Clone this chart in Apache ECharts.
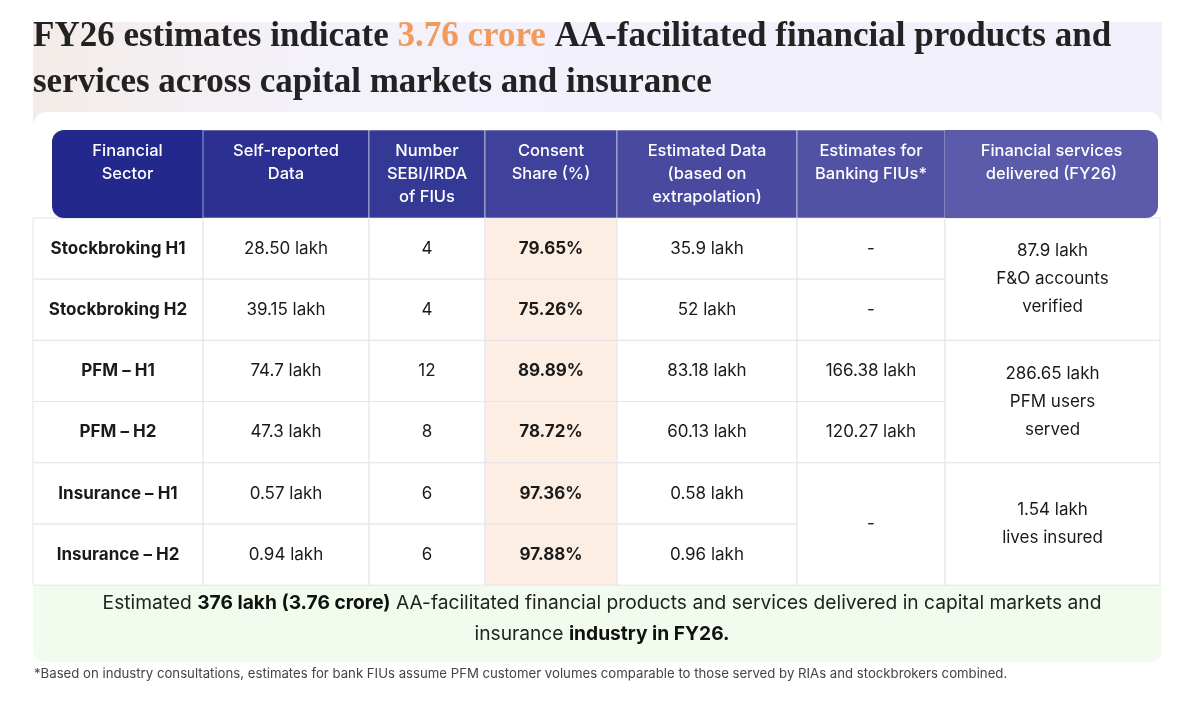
<!DOCTYPE html>
<html><head><meta charset="utf-8">
<script src="https://cdn.jsdelivr.net/npm/echarts@6/dist/echarts.min.js"></script>
<style>html,body{margin:0;padding:0;background:#fff}#c{width:1204px;height:708px}</style>
</head><body><div id="c"></div>
<script>
const headers = ['Financial\nSector','Self-reported\nData','Number\nSEBI/IRDA\nof FIUs','Consent\nShare (%)','Estimated Data\n(based on\nextrapolation)','Estimates for\nBanking FIUs*','Financial services\ndelivered (FY26)'];
const sectors = ['Stockbroking H1','Stockbroking H2','PFM – H1','PFM – H2','Insurance – H1','Insurance – H2'];
const selfReported = ['28.50 lakh','39.15 lakh','74.7 lakh','47.3 lakh','0.57 lakh','0.94 lakh'];
const fiuCount = [4,4,12,8,6,6];
const consentShare = [79.65,75.26,89.89,78.72,97.36,97.88];
const estimated = ['35.9 lakh','52 lakh','83.18 lakh','60.13 lakh','0.58 lakh','0.96 lakh'];
const banking = [['-',0,0],['-',1,1],['166.38 lakh',2,2],['120.27 lakh',3,3],['-',4,5]];
const delivered = [['87.9 lakh\nF&O accounts\nverified',0,1],['286.65 lakh\nPFM users\nserved',2,3],['1.54 lakh\nlives insured',4,5]];

// layout (pixels)
const colEdges = [33,203,369,485,617,797,945,1160];
const headTop = 130, headBot = 218, rowH = 61.2;
const rowY = r => headBot + r*rowH;

const cells = [];
for (let r=0;r<6;r++){
  cells.push([0,r,r,sectors[r],1]);
  cells.push([1,r,r,selfReported[r],0]);
  cells.push([2,r,r,String(fiuCount[r]),0]);
  cells.push([3,r,r,consentShare[r].toFixed(2)+'%',1]);
  cells.push([4,r,r,estimated[r],0]);
}
banking.forEach(b=>cells.push([5,b[1],b[2],b[0],0]));
delivered.forEach(d=>cells.push([6,d[1],d[2],d[0],0]));
const headCells = headers.map((h,i)=>[i,h]);

const chart = echarts.init(document.getElementById('c'));
chart.setOption({
  animation:false,
  grid:{left:0,right:0,top:0,bottom:0},
  xAxis:{type:'value',min:0,max:1204,show:false},
  yAxis:{type:'value',min:0,max:708,inverse:true,show:false},
  graphic:[
    {type:'rect',z:-10,shape:{x:33,y:22,width:1129,height:110},style:{fill:new echarts.graphic.LinearGradient(0,0,1,0,[{offset:0,color:'#f4ece8'},{offset:0.25,color:'#f3f1fa'},{offset:1,color:'#f1f0fa'}])}},
    {type:'rect',z:-9,shape:{x:33,y:112,width:1129,height:475,r:[14,14,0,0]},style:{fill:'#fff'}},
    {type:'rect',z:-9,shape:{x:33,y:586,width:1129,height:76,r:[0,0,12,12]},style:{fill:'#f1fcef'}},
    {type:'text',left:33,top:19,style:{text:'{a|FY26 estimates indicate }{o|3.76 crore}{a| AA-facilitated financial products and}\n{a|services across capital markets and insurance}',
      rich:{a:{fontFamily:'Liberation Serif',fontWeight:'bold',fontSize:35,fill:'#222',lineHeight:46},o:{fontFamily:'Liberation Serif',fontWeight:'bold',fontSize:35,fill:'#f29a5c',lineHeight:46}}}},
    {type:'text',left:'center',top:594,style:{text:'{n|Estimated }{b|376 lakh (3.76 crore)}{n| AA-facilitated financial products and services delivered in capital markets and}\n{n|insurance }{b|industry in FY26.}',align:'center',
      rich:{n:{fontFamily:'Inter',fontSize:19.2,fill:'#222',lineHeight:31,align:'center'},b:{fontFamily:'Inter',fontSize:19.2,fontWeight:'bold',fill:'#111',lineHeight:31,align:'center'}}}},
    {type:'text',left:34,top:668,style:{text:'*Based on industry consultations, estimates for bank FIUs assume PFM customer volumes comparable to those served by RIAs and stockbrokers combined.',fontFamily:'Inter',fontSize:13.2,fill:'#444'}}
  ],
  series:[
    {type:'custom',coordinateSystem:'cartesian2d',data:headCells,z:2,
     renderItem:(p,api)=>{
       const i=api.value(0); const x0=i===0?52:colEdges[i], x1=i===6?1158:colEdges[i+1];
       const a=api.coord([x0,headTop]), b=api.coord([x1,headBot]);
       const t=i/6;
       const mix=(c1,c2)=>'rgb('+c1.map((v,k)=>Math.round(v+(c2[k]-v)*t)).join(',')+')';
       const fill=mix([34,40,140],[92,90,170]);
       return {type:'group',children:[
         {type:'rect',shape:{x:a[0],y:a[1],width:b[0]-a[0],height:b[1]-a[1],r:i===0?[12,0,0,12]:(i===6?[0,12,12,0]:0)},style:{fill:fill,stroke:'rgba(255,255,255,0.55)',lineWidth:i>0&&i<6?1:0}},
         {type:'text',style:{x:(a[0]+b[0])/2,y:a[1]+10,text:headCells[p.dataIndex][1],align:'center',verticalAlign:'top',fill:'#fff',fontFamily:'Inter',fontWeight:500,fontSize:16.5,lineHeight:23}}
       ]};
     }},
    {type:'custom',coordinateSystem:'cartesian2d',data:cells,z:1,
     renderItem:(p,api)=>{
       const d=cells[p.dataIndex]; const c=d[0];
       const a=api.coord([colEdges[c],rowY(d[1])]), b=api.coord([colEdges[c+1],rowY(d[2]+1)]);
       return {type:'group',children:[
         {type:'rect',shape:{x:a[0],y:a[1],width:b[0]-a[0],height:b[1]-a[1]},style:{fill:c===3?'#fdeee3':'#fff',stroke:'#e4e4ec',lineWidth:1}},
         {type:'text',style:{x:(a[0]+b[0])/2,y:(a[1]+b[1])/2,text:d[3],align:'center',verticalAlign:'middle',fill:'#1a1a1a',fontFamily:'Inter',fontSize:17,fontWeight:d[4]?'bold':'normal',lineHeight:28}}
       ]};
     }}
  ]
});
</script></body></html>
